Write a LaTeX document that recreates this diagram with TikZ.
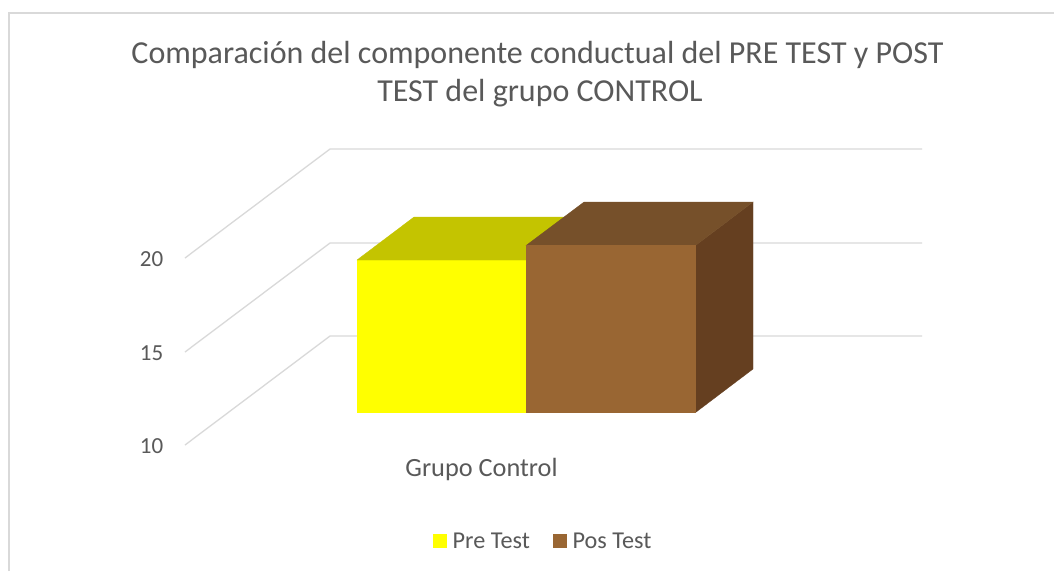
\documentclass[tikz,border=0pt]{standalone}
\usepackage{fontspec}
\setmainfont{Carlito}
\definecolor{txt}{HTML}{595959}
\definecolor{grid}{HTML}{D9D9D9}
\definecolor{yfront}{HTML}{FFFF00}
\definecolor{ytop}{HTML}{C4C400}
\definecolor{bfront}{HTML}{996633}
\definecolor{btop}{HTML}{76502A}
\definecolor{bside}{HTML}{653F20}
\begin{document}
\begin{tikzpicture}[x=1pt,y=-1pt,
  gridline/.style={draw=grid,line width=1.3pt},
  lbl/.style={text=txt,inner sep=0pt,outer sep=0pt},
  face/.style={line width=0.3pt}]
\useasboundingbox (0,0) rectangle (1054,571);
\fill[white] (0,0) rectangle (1054,571);
% outer frame (cropped)
\draw[draw=grid,line width=1.5pt] (9,571) -- (9,13) -- (1054,13);
% title
\node[lbl,anchor=base,font=\fontsize{32}{38}\selectfont] (t1) at (537.5,63.3) {Comparación del componente conductual del PRE TEST y POST};
\node[lbl,anchor=base,font=\fontsize{32}{38}\selectfont] (t2) at (540,101.7) {TEST del grupo CONTROL};
% gridlines
\coordinate (g20a) at (185,258); \coordinate (g20b) at (330,149); \coordinate (g20c) at (922,149);
\coordinate (g15a) at (185,352); \coordinate (g15b) at (330,243); \coordinate (g15c) at (922,243);
\coordinate (g10a) at (185,445); \coordinate (g10b) at (330,336); \coordinate (g10c) at (922,336);
\draw[gridline] (g20a) -- (g20b) -- (g20c);
\draw[gridline] (g15a) -- (g15b) -- (g15c);
\draw[gridline] (g10a) -- (g10b) -- (g10c);
% axis labels
\node[lbl,anchor=base east,font=\fontsize{23}{26}\selectfont] (l20) at (163.3,266.7) {20};
\node[lbl,anchor=base east,font=\fontsize{23}{26}\selectfont] (l15) at (163.3,360) {15};
\node[lbl,anchor=base east,font=\fontsize{23}{26}\selectfont] (l10) at (163.3,453.3) {10};
% Pre Test bar
\fill[yfront,draw=yfront,face] (357,260) rectangle (526,412.5);
\fill[ytop,draw=ytop,face] (357,260) -- (414,217) -- (583,217) -- (526,260) -- cycle;
% Pos Test bar
\fill[bside,draw=bside,face] (695.5,245.5) -- (753,202) -- (753,369) -- (695.5,412.5) -- cycle;
\fill[btop,draw=btop,face] (526,245.5) -- (584,202) -- (753,202) -- (695.5,245.5) -- cycle;
\fill[bfront,draw=bfront,face] (526,245.5) rectangle (695.5,412.5);
% category label
\node[lbl,anchor=base,font=\fontsize{26.3}{30}\selectfont] (cat) at (481.5,476) {Grupo Control};
% legend
\fill[yfront] (433,534) rectangle (447,548);
\node[lbl,anchor=base west,font=\fontsize{24.2}{28}\selectfont] (leg1) at (452.7,548) {Pre Test};
\fill[bfront] (553,534) rectangle (567,548);
\node[lbl,anchor=base west,font=\fontsize{24.2}{28}\selectfont] (leg2) at (572.7,548) {Pos Test};
\end{tikzpicture}
\end{document}
